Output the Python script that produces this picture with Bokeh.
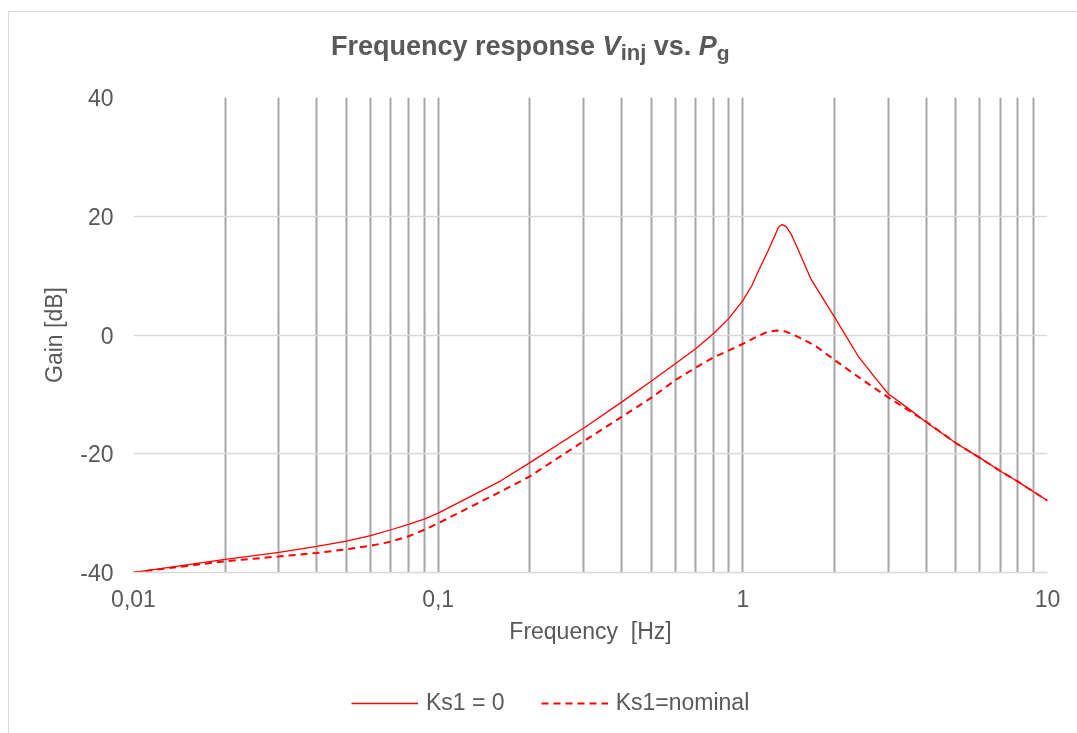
from bokeh.plotting import figure
from bokeh.models import FixedTicker, Legend, LegendItem, Range1d, Div
from bokeh.layouts import column
from bokeh.embed import file_html
from bokeh.resources import INLINE

# ---- data ----
freq_ks1_zero = [0.01, 0.02, 0.03, 0.04, 0.05, 0.06, 0.07, 0.08, 0.09, 0.1, 0.16, 0.2,
                 0.3, 0.4, 0.5, 0.6, 0.7, 0.8, 0.9, 1.0, 1.07, 1.13, 1.21, 1.27, 1.31,
                 1.346, 1.39, 1.44, 1.54, 1.67, 1.75, 2.0, 2.4, 2.7, 3.0, 3.5, 4.0,
                 5.0, 6.0, 7.0, 8.0, 9.0, 10.0]
gain_ks1_zero = [-40.0, -37.8, -36.6, -35.6, -34.7, -33.8, -32.8, -31.9, -31.0, -30.0,
                 -24.6, -21.5, -15.7, -11.3, -7.8, -4.85, -2.3, 0.2, 2.8, 5.8, 8.3,
                 11.0, 14.2, 16.6, 18.2, 18.6, 18.2, 17.0, 13.7, 9.5, 7.8, 3.0, -3.7,
                 -7.0, -9.9, -12.4, -14.7, -18.2, -20.7, -22.9, -24.7, -26.4, -27.9]
freq_ks1_nominal = [0.01, 0.02, 0.03, 0.04, 0.05, 0.06, 0.07, 0.08, 0.09, 0.1, 0.16, 0.2,
                    0.3, 0.4, 0.5, 0.6, 0.7, 0.8, 0.9, 1.0, 1.11, 1.2, 1.29, 1.38, 1.46,
                    1.54, 1.67, 1.75, 2.0, 2.4, 3.0, 4.0, 5.0, 6.0, 7.0, 8.0, 9.0, 10.0]
gain_ks1_nominal = [-40.0, -38.1, -37.3, -36.7, -36.1, -35.5, -34.8, -33.9, -32.8, -31.7,
                    -26.4, -23.8, -17.9, -13.8, -10.6, -7.6, -5.5, -3.8, -2.6, -1.5,
                    -0.3, 0.5, 0.75, 0.6, 0.1, -0.5, -1.4, -2.0, -4.2, -7.1, -10.5,
                    -14.6, -18.2, -20.7, -22.9, -24.7, -26.4, -27.9]
series_labels = ["Ks1 = 0", "Ks1=nominal"]
x_major_ticks = [0.01, 0.1, 1.0, 10.0]
x_tick_labels = ["0,01", "0,1", "1", "10"]
x_minor_ticks = [0.02, 0.03, 0.04, 0.05, 0.06, 0.07, 0.08, 0.09,
                 0.2, 0.3, 0.4, 0.5, 0.6, 0.7, 0.8, 0.9,
                 2.0, 3.0, 4.0, 5.0, 6.0, 7.0, 8.0, 9.0]
y_ticks = [-40, -20, 0, 20, 40]
y_tick_labels = ["-40", "-20", "0", "20", "40"]
x_axis_title = "Frequency\u00a0 [Hz]"
y_axis_title = "Gain [dB]"

FONT = "Liberation Sans"
TXT = "#595959"
RED = "#FF0000"

HEAD = 60   # title strip above the chart
FOOT = 60   # legend strip below the chart

p = figure(width=1077, height=733 - HEAD - FOOT, x_axis_type="log",
           x_range=Range1d(0.01, 10), y_range=Range1d(-40, 40),
           output_backend="svg", toolbar_location=None,
           min_border_left=133, min_border_right=30,
           min_border_top=97 - HEAD, min_border_bottom=161 - FOOT)
p.outline_line_color = None
p.background_fill_color = "white"
p.border_fill_color = None

# axes
p.xaxis.ticker = FixedTicker(ticks=x_major_ticks, minor_ticks=x_minor_ticks)
p.xaxis.major_label_overrides = dict(zip(x_major_ticks, x_tick_labels))
p.yaxis.ticker = FixedTicker(ticks=y_ticks)
p.yaxis.major_label_overrides = dict(zip(y_ticks, y_tick_labels))
for ax in (p.xaxis, p.yaxis):
    ax.major_tick_line_color = None
    ax.minor_tick_line_color = None
    ax.major_label_text_font = FONT
    ax.major_label_text_font_size = "23px"
    ax.major_label_text_color = TXT
    ax.axis_label_text_font = FONT
    ax.axis_label_text_font_size = "23px"
    ax.axis_label_text_color = TXT
    ax.axis_label_text_font_style = "normal"
p.xaxis.axis_line_color = "#D9D9D9"
p.xaxis.axis_line_width = 1.5
p.yaxis.axis_line_color = None
p.xaxis.major_label_standoff = 11
p.yaxis.major_label_standoff = 14
p.xaxis.axis_label = x_axis_title
p.yaxis.axis_label = y_axis_title
p.xaxis.axis_label_standoff = 8
p.yaxis.axis_label_standoff = 10

# grids
p.xgrid.grid_line_color = "#A6A6A6"
p.xgrid.grid_line_width = 2
p.xgrid.minor_grid_line_color = "#A6A6A6"
p.xgrid.minor_grid_line_width = 2
p.ygrid.grid_line_color = "#D9D9D9"
p.ygrid.grid_line_width = 1.5

# curves
p.line(freq_ks1_zero, gain_ks1_zero, line_color=RED, line_width=1.3)
p.line(freq_ks1_nominal, gain_ks1_nominal, line_color=RED, line_width=2, line_dash="7 5")

# legend strip (a small figure whose frame fills it, so the legend is not clipped);
# its renderers carry the same series but stay hidden, only their legend keys show
q = figure(width=1077, height=FOOT, x_axis_type="log",
           x_range=Range1d(0.01, 10), y_range=Range1d(-40, 40),
           output_backend="svg", toolbar_location=None, title=None,
           x_axis_location=None, y_axis_location=None, min_border=0)
q.outline_line_color = None
q.grid.visible = False
q.border_fill_color = None
q.background_fill_color = None
k1 = q.line(freq_ks1_zero, gain_ks1_zero, line_color=RED, line_width=1.3, visible=False)
k2 = q.line(freq_ks1_nominal, gain_ks1_nominal, line_color=RED, line_width=2,
            line_dash="7 5", visible=False)
legend = Legend(items=[LegendItem(label=series_labels[0], renderers=[k1]),
                       LegendItem(label=series_labels[1], renderers=[k2])],
                orientation="horizontal", location=(218, 17),
                border_line_color=None, background_fill_alpha=0,
                inactive_fill_alpha=0, click_policy="none",
                padding=0, margin=0, spacing=36, glyph_width=67, glyph_height=20,
                label_standoff=8, label_text_font=FONT, label_text_font_size="23px",
                label_text_color=TXT, label_height=20)
q.add_layout(legend)

# title (italic symbols with subscripts) and the light chart border
title_html = (
    '<div style="position:fixed; left:8px; top:11px; width:3000px; height:3000px;'
    ' border-left:1px solid #D9D9D9; border-top:1px solid #D9D9D9;'
    ' pointer-events:none; box-sizing:border-box;"></div>'
    '<div style="position:fixed; left:331px; top:33px; white-space:nowrap;'
    ' font-family:\'Liberation Sans\'; font-size:27px; line-height:26px;'
    ' font-weight:bold; color:#595959;">'
    'Frequency response <i>V</i><span style="font-size:22px; position:relative;'
    ' top:5px;">inj</span> vs. <i>P</i><span style="font-size:21px;'
    ' position:relative; top:5px;">g</span></div>'
)
head = Div(text=title_html, width=1077, height=HEAD, margin=(0, 0, 0, 0))

layout = column(head, p, q, spacing=0)
open("out.html", "w").write(file_html(layout, INLINE))
